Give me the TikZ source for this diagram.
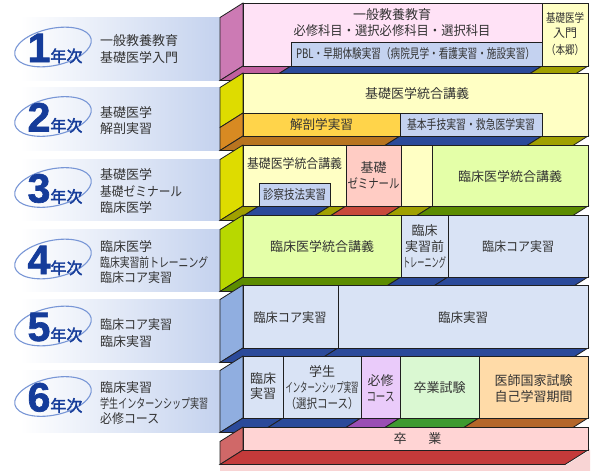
\documentclass[tikz,border=0pt]{standalone}
\usepackage{fontspec}
\usepackage{graphicx}
\setmainfont{Noto Sans CJK JP}
\newfontfamily\cjkb[FakeBold=2.2]{Noto Sans CJK JP}
\newfontfamily\digf[BoldFeatures={FakeBold=1.6}]{Liberation Sans}
\usetikzlibrary{shapes.geometric}
\definecolor{txt}{HTML}{333333}
\definecolor{pinkbox}{HTML}{FFE2F6}
\definecolor{magface}{HTML}{CC7AB4}
\definecolor{magbot}{HTML}{C0609F}
\definecolor{lblue}{HTML}{C4D2F0}
\definecolor{lblueb}{HTML}{D9E3F5}
\definecolor{navy}{HTML}{2B4A9A}
\definecolor{olive}{HTML}{A0A000}
\definecolor{lyellow}{HTML}{FFFFC4}
\definecolor{ylwface}{HTML}{DEDC00}
\definecolor{orangebox}{HTML}{FFD44A}
\definecolor{orangeface}{HTML}{D88A22}
\definecolor{brownbot}{HTML}{B87420}
\definecolor{pinkz}{HTML}{FFCCC4}
\definecolor{redbotz}{HTML}{C84A3C}
\definecolor{lgreen}{HTML}{E4FFA8}
\definecolor{greenbot}{HTML}{5C8C00}
\definecolor{ygreen}{HTML}{B8D800}
\definecolor{bface}{HTML}{90AEE0}
\definecolor{lpurple}{HTML}{EACBFA}
\definecolor{purplebot}{HTML}{9A4EB4}
\definecolor{lgreenb}{HTML}{DAF8D2}
\definecolor{greenbotb}{HTML}{3E9A30}
\definecolor{peach}{HTML}{FFDBA8}
\definecolor{brownbotb}{HTML}{B4662A}
\definecolor{lpink}{HTML}{FFD4D4}
\definecolor{redface}{HTML}{D06868}
\definecolor{redbot}{HTML}{C43A3A}
\definecolor{palepink}{HTML}{F8D4D4}
\definecolor{bandc}{HTML}{C4D2EE}
\definecolor{ellc}{HTML}{7896D6}
\definecolor{digc}{HTML}{153C9A}
\newcommand{\fw}[2]{\resizebox{#1pt}{\height}{#2}}
\newcommand{\band}[2]{\shade[left color=white,right color=bandc] (20,#1) rectangle (220,#2);}
\newcommand{\lface}[3]{\draw[edge,fill=#3] (243,#1) -- (243,#2) -- (220,{#2+14.5}) -- (220,{#1+14.5}) -- cycle;}
\newcommand{\bseg}[4]{\draw[edge,fill=#4] (#1,#3) -- (#2,#3) -- ({#2-23},{#3+14.5}) -- ({#1-23},{#3+14.5}) -- cycle;}
\newcommand{\frontbox}[5]{\draw[edge,fill=#5] (#1,#2) rectangle (#3,#4);}
\newcommand{\yearmark}[3]{%
  \node[draw=ellc,line width=1.1pt,ellipse,minimum width=78pt,minimum height=37pt,rotate=12,inner sep=0] (e#1) at (53,#2) {};
  \node[anchor=base,inner sep=0,text=digc] (y#1) at (55,{#2+15}) {{\digf\bfseries\fontsize{41}{41}\selectfont #3}{\cjkb\fontsize{16}{16}\selectfont 年次}};}
\tikzset{
  edge/.style={draw=black!88,line width=0.8pt},
  lbl/.style={inner sep=0,text=txt,align=center,font=\fontsize{13}{16}\selectfont},
  side/.style={inner sep=0,text=txt,align=left,anchor=west,font=\fontsize{13}{16.5}\selectfont},
}
\begin{document}
\begin{tikzpicture}[x=1pt,y=-1pt,line join=miter]
\useasboundingbox (0,0) rectangle (592,471);
\fill[white] (0,0) rectangle (592,471);
% ---------- bands ----------
\band{17.5}{80.5}
\band{87.5}{150.5}
\band{159.5}{220.5}
\band{229.5}{291.5}
\band{299.5}{362.5}
\band{370.5}{432.5}
% ---------- year marks ----------
\yearmark{1}{47}{1}
\yearmark{2}{116.5}{2}
\yearmark{3}{187.5}{3}
\yearmark{4}{259}{4}
\yearmark{5}{326}{5}
\yearmark{6}{396.5}{6}
% ---------- side texts ----------
\node[side,font=\fontsize{13}{17}\selectfont] (s1) at (100,49.5) {一般教養教育\\基礎医学入門};
\node[side,font=\fontsize{13}{15.5}\selectfont] (s2) at (100,120.5) {基礎医学\\解剖実習};
\node[side] (s3) at (100,191.5) {基礎医学\\\fw{82}{基礎ゼミナール}\\臨床医学};
\node[side,font=\fontsize{13}{15.5}\selectfont] (s4) at (100,262.5) {臨床医学\\\fw{108}{臨床実習前トレーニング}\\\fw{72}{臨床コア実習}};
\node[side,font=\fontsize{13}{17}\selectfont] (s5) at (100,333.5) {\fw{72}{臨床コア実習}\\臨床実習};
\node[side,font=\fontsize{13}{15.5}\selectfont] (s6) at (100,403.5) {臨床実習\\\fw{108}{学生インターンシップ実習}\\\fw{59}{必修コース}};
% ---------- row 1 ----------
\lface{3}{66}{magface}
\bseg{243}{291}{66}{magbot}
\bseg{291}{542}{66}{navy}
\bseg{542}{588}{66}{olive}
\frontbox{243}{3}{542}{66}{pinkbox}
\frontbox{291}{42}{542}{66}{lblue}
\frontbox{542}{3}{588}{66}{lyellow}
\node[lbl] (r1a) at (392,23) {一般教養教育\\\fw{197}{必修科目・選択必修科目・選択科目}};
\node[lbl] (r1b) at (415.5,54) {\fw{239}{PBL・早期体験実習（病院見学・看護実習・施設実習）}};
\node[lbl,font=\fontsize{12}{15}\selectfont] (r1c) at (565,34.5) {\fw{38}{基礎医学}\\入門\\[2pt]\fw{38}{（本郷）}};
% ---------- row 2 ----------
\lface{73}{113}{ylwface}
\lface{113}{136}{orangeface}
\bseg{243}{400}{136}{brownbot}
\bseg{400}{542}{136}{navy}
\bseg{542}{588}{136}{olive}
\frontbox{243}{73}{588}{136}{lyellow}
\frontbox{243}{113}{400}{136}{orangebox}
\frontbox{400}{113}{542}{136}{lblue}
\node[lbl] (r2a) at (417,94) {基礎医学統合講義};
\node[lbl] (r2b) at (321.5,124.5) {\fw{63}{解剖学実習}};
\node[lbl] (r2c) at (471,124.5) {\fw{128}{基本手技実習・救急医学実習}};
% ---------- row 3 ----------
\lface{145}{206}{ylwface}
\bseg{243}{259}{206}{olive}
\bseg{259}{330}{206}{navy}
\bseg{330}{346}{206}{olive}
\bseg{346}{401}{206}{redbotz}
\bseg{401}{432}{206}{olive}
\bseg{432}{588}{206}{greenbot}
\frontbox{243}{145}{346}{206}{lyellow}
\frontbox{259}{183}{330}{206}{lblue}
\frontbox{346}{145}{401}{206}{pinkz}
\frontbox{401}{145}{432}{206}{lyellow}
\frontbox{432}{145}{588}{206}{lgreen}
\node[lbl] (r3a) at (294.5,164) {\fw{95}{基礎医学統合講義}};
\node[lbl] (r3b) at (294.5,194.5) {\fw{63}{診察技法実習}};
\node[lbl] (r3c) at (373.5,175) {基礎\\\fw{52}{ゼミナール}};
\node[lbl] (r3d) at (510,177) {臨床医学統合講義};
% ---------- row 4 ----------
\lface{215}{277}{ygreen}
\bseg{243}{401}{277}{greenbot}
\bseg{401}{448}{277}{navy}
\bseg{448}{588}{277}{navy}
\frontbox{243}{215}{401}{277}{lgreen}
\frontbox{401}{215}{448}{277}{lblueb}
\frontbox{448}{215}{588}{277}{lblueb}
\node[lbl] (r4a) at (322,246.5) {臨床医学統合講義};
\node[lbl] (r4b) at (424.5,246.5) {臨床\\実習前\\\fw{43}{トレーニング}};
\node[lbl] (r4c) at (518,247) {\fw{72}{臨床コア実習}};
% ---------- row 5 ----------
\lface{285}{348}{bface}
\bseg{243}{338}{348}{navy}
\bseg{338}{588}{348}{navy}
\frontbox{243}{285}{338}{348}{lblueb}
\frontbox{338}{285}{588}{348}{lblueb}
\node[lbl] (r5a) at (290,317.5) {\fw{73}{臨床コア実習}};
\node[lbl] (r5b) at (463,317.5) {\fw{50}{臨床実習}};
% ---------- row 6 ----------
\lface{356}{418}{bface}
\bseg{243}{283}{418}{navy}
\bseg{283}{361}{418}{navy}
\bseg{361}{400}{418}{purplebot}
\bseg{400}{479}{418}{greenbotb}
\bseg{479}{588}{418}{brownbotb}
\frontbox{243}{356}{283}{418}{lblueb}
\frontbox{283}{356}{361}{418}{lblueb}
\frontbox{361}{356}{400}{418}{lpurple}
\frontbox{400}{356}{479}{418}{lgreenb}
\frontbox{479}{356}{588}{418}{peach}
\node[lbl,font=\fontsize{13}{15}\selectfont] (r6a) at (263,386.5) {臨床\\実習};
\node[lbl] (r6b) at (322,387.5) {学生\\\fw{73}{インターンシップ実習}\\\fw{73}{（選択コース）}};
\node[lbl] (r6c) at (380.5,388) {必修\\\fw{28}{コース}};
\node[lbl] (r6d) at (439.5,388) {卒業試験};
\node[lbl] (r6e) at (533.5,388.5) {医師国家試験\\自己学習期間};
% ---------- graduation ----------
\fill[palepink] (220,464.5) -- (567,464.5) -- (590,450) -- (590,471) -- (220,471) -- cycle;
\lface{427}{450}{redface}
\bseg{243}{588}{450}{redbot}
\frontbox{243}{427}{588}{450}{lpink}
\node[lbl] (r7) at (417.5,438.5) {卒\hspace{22pt}業};
\end{tikzpicture}
\end{document}
